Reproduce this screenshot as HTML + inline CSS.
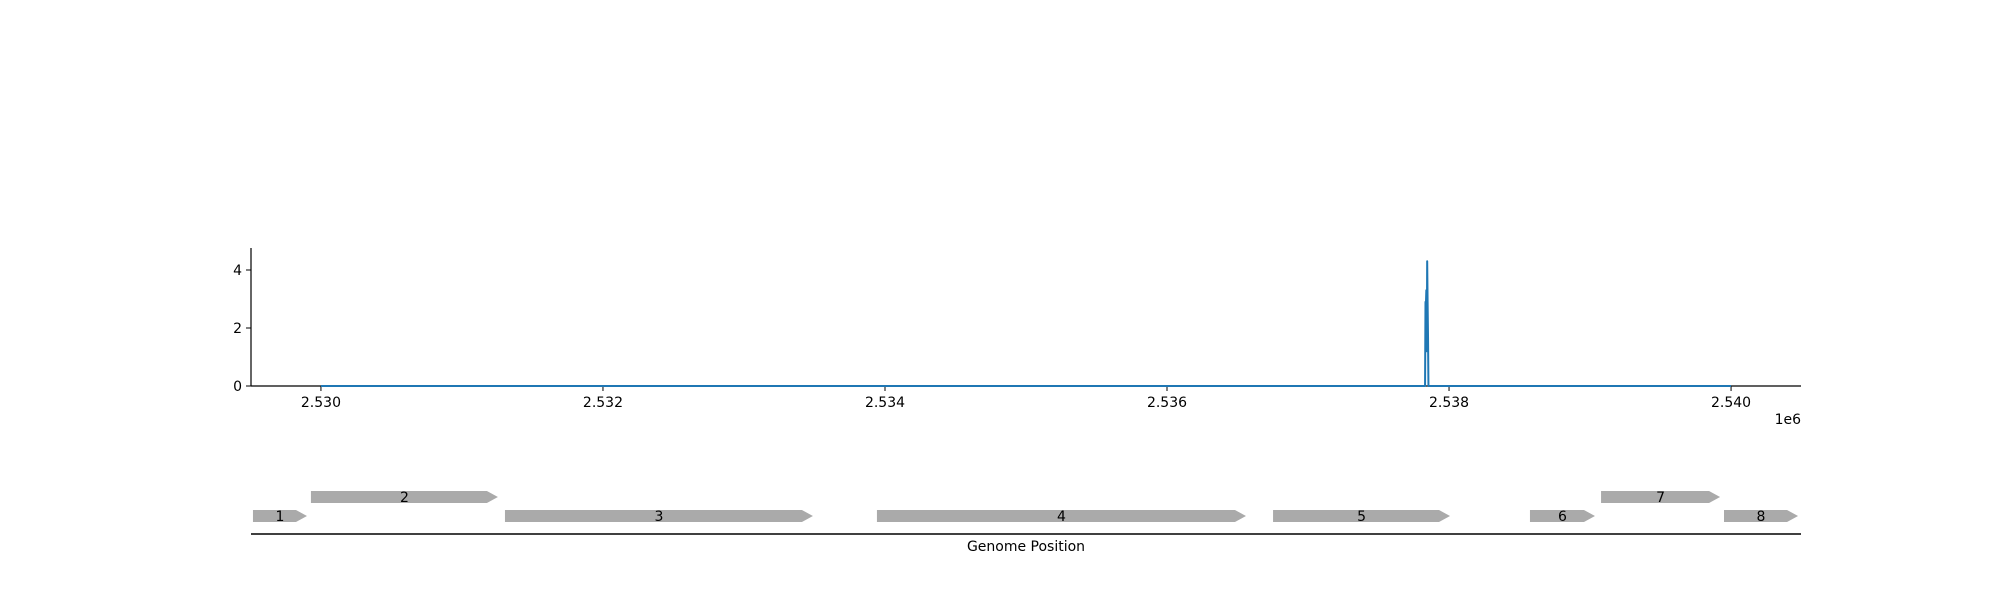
<!DOCTYPE html>
<html><head><meta charset="utf-8"><style>
body{margin:0;background:#fff;}
svg{display:block;font-family:"DejaVu Sans","Liberation Sans",sans-serif;}
</style></head><body>
<svg id="chart" width="2000" height="600" viewBox="0 0 2000 600" xmlns="http://www.w3.org/2000/svg">
<g id="axes"></g>
<g id="series"></g>
<g id="genes"></g>
</svg>
<script>
const positions=[2530000,2537830,2537833,2537836,2537839,2537842,2537845,2537848,2537851,2537854,2540000];
const coverage=[0,0,2.9,2.8,3.3,1.2,4.3,2.9,1.7,0,0];
const xTicks=[2530000,2532000,2534000,2536000,2538000,2540000];
const xTickLabels=["2.530","2.532","2.534","2.536","2.538","2.540"];
const yTicks=[0,2,4];
const geneLabels=["1","2","3","4","5","6","7","8"];
const geneStarts=[2529518,2529929,2531305,2533943,2536752,2538574,2539078,2539950];
const geneEnds=[2529901,2531255,2533489,2536560,2538007,2539035,2539922,2540475];
const geneRows=[0,1,0,0,0,0,1,0];

const NS="http://www.w3.org/2000/svg";
const X0=251,X1=1801,BP0=2529504,BP1=2540496;
const Y0=386,UNIT=29;
function xs(v){return X0+(v-BP0)/(BP1-BP0)*(X1-X0);}
function ys(v){return Y0-v*UNIT;}
function mk(tag,attrs,parent,text){const e=document.createElementNS(NS,tag);for(const k in attrs)e.setAttribute(k,attrs[k]);if(text!==undefined)e.textContent=text;parent.appendChild(e);return e;}
const axes=document.getElementById('axes'),series=document.getElementById('series'),genes=document.getElementById('genes');

let el=mk('line',{x1:X0,y1:248,x2:X0,y2:Y0,stroke:'#000','stroke-width':1.2},axes);


el=mk('line',{x1:X0,y1:Y0,x2:X1,y2:Y0,stroke:'#000','stroke-width':1.2},axes);


yTicks.forEach(t=>{
  const l=mk('line',{x1:X0-5,y1:ys(t),x2:X0,y2:ys(t),stroke:'#000','stroke-width':1},axes);
  
  
  const tx=mk('text',{x:X0-9,y:ys(t)+5,'font-size':14,'text-anchor':'end'},axes,String(t));
  
  
});
xTicks.forEach((t,i)=>{
  const l=mk('line',{x1:xs(t),y1:Y0,x2:xs(t),y2:Y0+5,stroke:'#000','stroke-width':1},axes);
  
  
  const tx=mk('text',{x:xs(t),y:Y0+21,'font-size':14,'text-anchor':'middle'},axes,xTickLabels[i]);
  
  
});
el=mk('text',{x:1801,y:424,'font-size':14,'text-anchor':'end'},axes,'1e6');



const pts=positions.map((p,i)=>xs(p).toFixed(2)+','+ys(coverage[i]).toFixed(2)).join(' ');
el=mk('polyline',{points:pts,fill:'none',stroke:'#1f77b4','stroke-width':2,'stroke-linejoin':'round'},series);



const rowY=[510,491],H=12,HEAD=11;
geneLabels.forEach((g,i)=>{
  const a=xs(geneStarts[i]),b=xs(geneEnds[i]),y=rowY[geneRows[i]];
  const body=Math.max(a,b-HEAD);
  const p=mk('polygon',{points:`${a},${y} ${body},${y} ${b},${y+H/2} ${body},${y+H} ${a},${y+H}`,fill:'#aaaaaa'},genes);
  
  
  const t=mk('text',{x:(a+b)/2,y:y+H/2+5,'font-size':14,'text-anchor':'middle'},genes,g);
  
  
});
el=mk('line',{x1:X0,y1:534,x2:X1,y2:534,stroke:'#000','stroke-width':1.5},genes);


el=mk('text',{x:1026,y:551,'font-size':14,'text-anchor':'middle'},genes,'Genome Position');


</script>
</body></html>
